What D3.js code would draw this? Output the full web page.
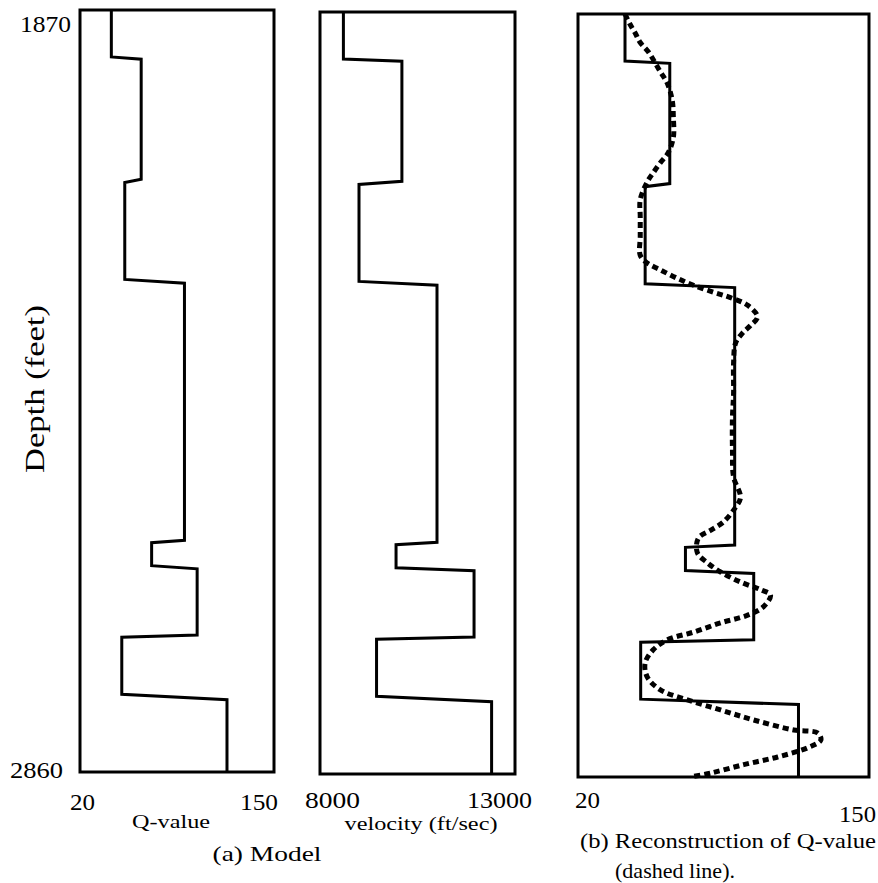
<!DOCTYPE html>
<html lang="en">
<head>
  <meta charset="UTF-8">
  <title>Q-value model and reconstruction</title>
  <script src="https://d3js.org/d3.v7.min.js"></script>
  <style>
    html, body { margin: 0; padding: 0; background: #fff; }
    svg { display: block; }
  </style>
</head>
<body>
<svg id="chart" width="878" height="883"></svg>
<script>
  // depth range (feet)
  const depthTicks = [1870, 2860];

  // layered model: top and base depth of each layer
  const layerTop  = [1870, 1934, 2094, 2225, 2562, 2596, 2685, 2766];
  const layerBase = [1931, 2090, 2220, 2559, 2592, 2682, 2759, 2860];
  const qModel    = [41, 61, 50, 90, 68, 98.5, 48, 118.5];
  const vModel    = [8600, 10100, 9000, 11000, 9950, 11950, 9450, 12400];

  // reconstructed Q (dashed line)
  const reconDepth = [1870, 1882, 1895, 1907, 1919, 1945, 1960, 1982, 2004, 2030,
    2050, 2063, 2076, 2088, 2111, 2133, 2159, 2183, 2193, 2202,
    2213, 2222, 2231, 2238, 2248, 2263, 2274, 2284, 2297, 2323,
    2362, 2393, 2436, 2471, 2497, 2510, 2529, 2540, 2550, 2569,
    2582, 2594, 2607, 2617, 2624, 2639, 2650, 2660, 2672, 2682,
    2695, 2712, 2730, 2747, 2760, 2773, 2786, 2799, 2803, 2812,
    2822, 2834, 2844, 2855, 2860];
  const reconQ = [41, 43, 45.6, 47.8, 51.4, 56.8, 59.9, 62.1, 62.6, 62.6,
    60.3, 56.8, 53.6, 50.9, 47.8, 47.8, 47.8, 47.8, 50.9, 56.8,
    64.4, 71.6, 80.5, 88.1, 95.8, 100.2, 97.1, 93.5, 90.4, 89.5,
    89.5, 89, 89, 89.5, 92.6, 90.4, 85, 79.2, 73.8, 73.3,
    77.8, 83.7, 92.6, 101.6, 106, 102.9, 95.8, 83.7, 71.6, 59.9,
    53.6, 50, 50.9, 56.8, 68.9, 83.7, 98.5, 116.4, 127.1, 128.5,
    122.7, 109.2, 94, 79.2, 70.2];

  const qTicks = [20, 150];
  const vTicks = [8000, 13000];

  const FONT = "'Liberation Serif', 'Times New Roman', Times, serif";
  const svg = d3.select("#chart");

  // one panel = frame + scales
  function panel(x0, x1, y0, y1, domain) {
    const x = d3.scaleLinear().domain(domain).range([x0, x1]);
    const y = d3.scaleLinear().domain(depthTicks).range([y0, y1]);
    const g = svg.append("g");
    g.append("rect")
      .attr("x", x0).attr("y", y0)
      .attr("width", x1 - x0).attr("height", y1 - y0)
      .attr("fill", "none").attr("stroke", "#000").attr("stroke-width", 3);
    return { g, x, y };
  }

  function stepPoints(values) {
    const pts = [];
    values.forEach((v, i) => {
      pts.push([v, layerTop[i]]);
      pts.push([v, layerBase[i]]);
    });
    return pts;
  }

  function drawStep(p, values) {
    const line = d3.line().x(d => p.x(d[0])).y(d => p.y(d[1]));
    p.g.append("path")
      .attr("d", line(stepPoints(values)))
      .attr("fill", "none")
      .attr("stroke", "#000")
      .attr("stroke-width", 3);
  }

  // text squeezed to the width it has in the scan
  function label(txt, x, y, size, anchor, len) {
    return svg.append("text")
      .attr("x", x).attr("y", y)
      .attr("font-family", FONT)
      .attr("font-size", size)
      .attr("text-anchor", anchor)
      .attr("textLength", len)
      .attr("lengthAdjust", "spacingAndGlyphs")
      .text(txt);
  }

  // (a) Q-value model
  const p1 = panel(80, 274, 10, 772, qTicks);
  drawStep(p1, qModel);

  // (a) velocity model
  const p2 = panel(320, 515, 12, 774, vTicks);
  drawStep(p2, vModel);

  // (b) reconstruction
  const p3 = panel(578, 869, 14, 777, qTicks);
  drawStep(p3, qModel);

  const recon = reconDepth.map((d, i) => [reconQ[i], d]);
  p3.g.append("path")
    .attr("d", d3.line()
      .x(d => p3.x(d[0]))
      .y(d => p3.y(d[1]))
      .curve(d3.curveCatmullRom)(recon))
    .attr("fill", "none")
    .attr("stroke", "#000")
    .attr("stroke-width", 5)
    .attr("stroke-dasharray", "6,4");

  // depth labels
  label(depthTicks[0], 71, p1.y(depthTicks[0]) + 22, 23, "end", 51);
  label(depthTicks[1], 63, p1.y(depthTicks[1]) + 6, 23, "end", 53);

  svg.append("text")
    .attr("transform", "translate(44,389) rotate(-90)")
    .attr("font-family", FONT)
    .attr("font-size", 27)
    .attr("text-anchor", "middle")
    .attr("textLength", 168)
    .attr("lengthAdjust", "spacingAndGlyphs")
    .text("Depth (feet)");

  // x tick labels
  label(qTicks[0], p1.x(qTicks[0]) - 10, 810, 23, "start", 25);
  label(qTicks[1], p1.x(qTicks[1]) + 4, 810, 23, "end", 38);
  label(vTicks[0], p2.x(vTicks[0]) - 15, 808, 23, "start", 55);
  label(vTicks[1], p2.x(vTicks[1]) + 17, 808, 23, "end", 65);
  label(qTicks[0], p3.x(qTicks[0]) - 3, 808, 23, "start", 25);
  label(qTicks[1], p3.x(qTicks[1]) + 7, 822, 23, "end", 37);

  // axis titles and captions
  label("Q-value", 171, 828, 19, "middle", 78);
  label("velocity (ft/sec)", 421, 830, 19, "middle", 153);
  label("(a) Model", 267, 861, 21, "middle", 109);
  label("(b) Reconstruction of Q-value", 728, 848, 21, "middle", 296);
  label("(dashed line).", 675, 878, 21, "middle", 120);
</script>
</body>
</html>
